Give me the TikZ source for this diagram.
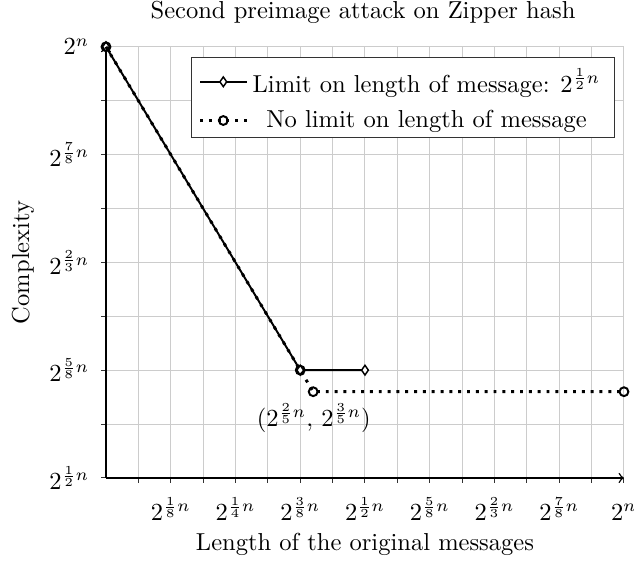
\documentclass[tikz,border=0pt]{standalone}
\usepackage{tikz}
\usepackage{color}
\usetikzlibrary{shapes.geometric}

\begin{document}
\begin{tikzpicture}[%
      x=26.4pt, y=43.95pt,
      gridline/.style={color=gray!40, line width=0.4pt},
      tickmark/.style={color=black!80, line width=0.4pt},
      axisline/.style={color=black, line width=0.6pt, ->},
      limitline/.style={color=black, line width=0.8pt, solid},
      nolimitline/.style={color=black, line width=1.2pt, dash pattern=on 1.2pt off 2.4pt},
      diamondmark/.style={shape=diamond, draw=black, fill=white, line width=0.6pt,
                          inner sep=0pt, minimum width=3pt, minimum height=4.2pt},
      circlemark/.style={shape=circle, draw=black, line width=0.8pt,
                         inner sep=0pt, minimum size=3.6pt},
      ]
      \useasboundingbox (-1.637,3.234) rectangle (8.155,8.434);
      \draw [gridline, xstep=0.5, ystep=0.5] (0,4) grid (8,8);
      \foreach \x in {0.5,1.0,...,8.0}
        \draw [tickmark] (\x,4) -- ++(0,-2.1pt);
      \foreach \y in {4.0,4.5,...,8.0}
        \draw [tickmark] (0,\y) -- ++(-2.1pt,0);
      \draw [axisline] (0,4) -- (8,4);
      \draw [axisline] (0,4) -- (0,8);

      % tick labels
      \node [anchor=base] (xa) at (1,3.605) {$2^{\frac{1}{8}n}$};
      \node [anchor=base] (xb) at (2,3.605) {$2^{\frac{1}{4}n}$};
      \node [anchor=base] (xc) at (3,3.605) {$2^{\frac{3}{8}n}$};
      \node [anchor=base] (xd) at (4,3.605) {$2^{\frac{1}{2}n}$};
      \node [anchor=base] (xe) at (5,3.605) {$2^{\frac{5}{8}n}$};
      \node [anchor=base] (xf) at (6,3.605) {$2^{\frac{2}{3}n}$};
      \node [anchor=base] (xg) at (7,3.605) {$2^{\frac{7}{8}n}$};
      \node [anchor=base] (xh) at (8,3.605) {$2^{n}$};

      \node [anchor=east] (ya) at (-0.124,4) {$2^{\frac{1}{2}n}$};
      \node [anchor=east] (yb) at (-0.124,5) {$2^{\frac{5}{8}n}$};
      \node [anchor=east] (yc) at (-0.124,6) {$2^{\frac{2}{3}n}$};
      \node [anchor=east] (yd) at (-0.124,7) {$2^{\frac{7}{8}n}$};
      \node [anchor=east] (ye) at (-0.124,8) {$2^{n}$};

      \node (title) at (3.97,8.318) {Second preimage attack on Zipper hash};
      \node (xlabel) at (4.0,3.383) {Length of the original messages};
      \node [rotate=90] (ylabel) at (-1.282,6) {Complexity};

      % curves
      \coordinate (lim0) at (0,8);
      \coordinate (lim1) at (3,5);
      \coordinate (lim2) at (4,5);
      \coordinate (nol0) at (0,8);
      \coordinate (nol1) at (3,5);
      \coordinate (nol2) at (3.2,4.8);
      \coordinate (nol3) at (8,4.8);

      \draw [limitline] (lim0) -- (lim1) -- (lim2);
      \node [diamondmark] (dm0) at (lim0) {};
      \node [diamondmark] (dm1) at (lim1) {};
      \node [diamondmark] (dm2) at (lim2) {};
      \draw [nolimitline] (nol0) -- (nol1) -- (nol2) -- (nol3);
      \node [circlemark] (cm0) at (nol0) {};
      \node [circlemark] (cm1) at (nol1) {};
      \node [circlemark] (cm2) at (nol2) {};
      \node [circlemark] (cm3) at (nol3) {};

      \node (point) at (3.21,4.557) {$(2^{\frac{2}{5}n},\, 2^{\frac{3}{5}n})$};

      % legend
      \draw [color=black!80, fill=white, line width=0.4pt] (1.313,7.162) rectangle (7.846,7.904);
      \coordinate (la) at (1.452,7.675);
      \coordinate (lb) at (2.172,7.675);
      \coordinate (lc) at (1.452,7.316);
      \coordinate (ld) at (2.172,7.316);
      \draw [limitline] (la) -- (lb);
      \node [diamondmark] (legdm) at (1.812,7.675) {};
      \draw [nolimitline] (lc) -- (ld);
      \node [circlemark] (legcm) at (1.812,7.316) {};
      \node [anchor=base] (leglimit) at (4.95,7.579) {Limit on length of message: $2^{\frac{1}{2}n}$};
      \node [anchor=base] (legnolimit) at (4.95,7.25) {No limit on length of message};
\end{tikzpicture}
\end{document}
